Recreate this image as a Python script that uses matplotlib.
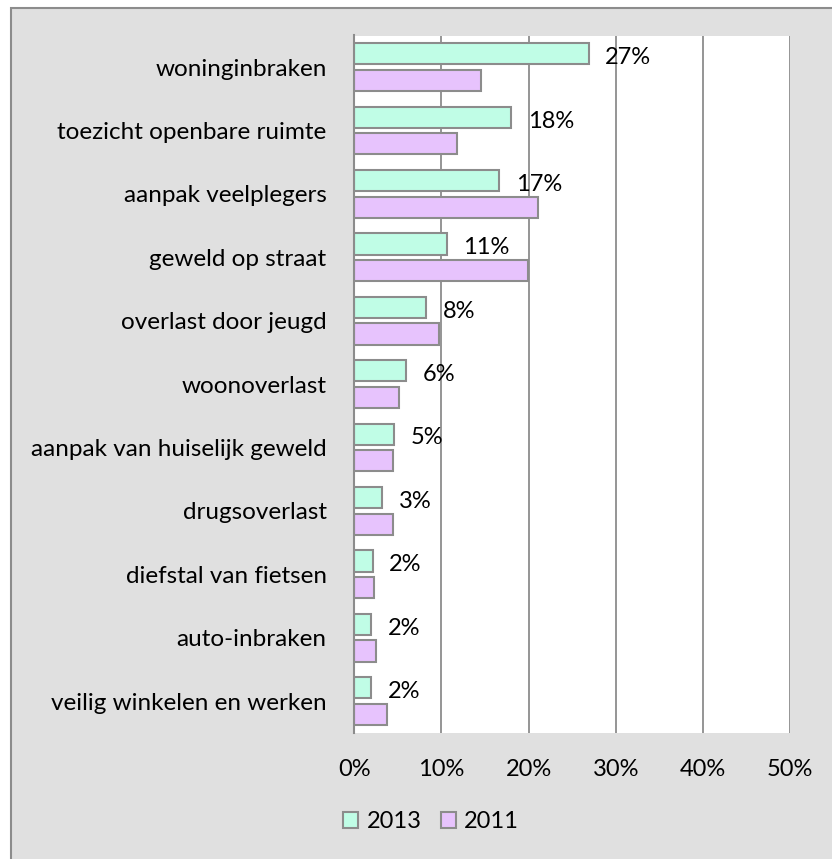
import matplotlib
matplotlib.use("Agg")
import matplotlib.pyplot as plt
from matplotlib.patches import Rectangle, Patch
import numpy as np

plt.rcParams["font.family"] = ["Lato", "DejaVu Sans"]

categories = [
    "woninginbraken",
    "toezicht openbare ruimte",
    "aanpak veelplegers",
    "geweld op straat",
    "overlast door jeugd",
    "woonoverlast",
    "aanpak van huiselijk geweld",
    "drugsoverlast",
    "diefstal van fietsen",
    "auto-inbraken",
    "veilig winkelen en werken",
]
values_2013 = [26.9, 18.0, 16.6, 10.6, 8.2, 5.9, 4.6, 3.2, 2.1, 1.9, 1.9]
values_2011 = [14.5, 11.8, 21.1, 19.9, 9.7, 5.1, 4.4, 4.4, 2.3, 2.5, 3.7]
series_names = ["2013", "2011"]
x_ticks = [0, 10, 20, 30, 40, 50]

W, H = 832, 859
fig = plt.figure(figsize=(W / 100, H / 100), dpi=100, facecolor="white")

# grey chart area with border
fig.patches.append(Rectangle((11 / W, -0.02), 1.0, (H - 7.5) / H + 0.02,
                             transform=fig.transFigure, facecolor="#E0E0E0",
                             edgecolor="#8C8C8C", lw=1.5, zorder=-10))

left, right = 354.3 / W, 790 / W
bottom, top = 1 - 732.7 / H, 1 - 35.5 / H
ax = fig.add_axes([left, bottom, right - left, top - bottom])
ax.set_facecolor("white")

green = "#C0FDE6"
purple = "#E7C3FD"
edge = "#8C8C8C"

y = np.arange(len(categories))
h = 0.335
off = 0.21
ax.barh(y - off, values_2013, height=h, color=green, edgecolor=edge, lw=1.5, zorder=3)
ax.barh(y + off, values_2011, height=h, color=purple, edgecolor=edge, lw=1.5, zorder=3)

fs_num = 17
fs_cat = 17.5
for yi, v in zip(y, values_2013):
    ax.annotate(f"{round(v):.0f}%", (v, yi - off + 0.06), xytext=(12, 0),
                textcoords="offset points", ha="left", va="center",
                fontsize=fs_num, color="black", zorder=4)

ax.set_xlim(0, 50)
ax.set_ylim(len(categories) - 0.5, -0.5)
ax.set_xticks(x_ticks)
ax.set_xticklabels([f"{t}%" for t in x_ticks], fontsize=fs_num)
ax.set_yticks(y)
ax.set_yticklabels(categories, fontsize=fs_cat)
ax.tick_params(axis="both", length=0)
ax.tick_params(axis="x", pad=19)
ax.tick_params(axis="y", pad=20)
ax.grid(axis="x", color=edge, lw=1.3)
ax.set_axisbelow(True)
for s in ["top", "right", "bottom"]:
    ax.spines[s].set_visible(False)
ax.spines["left"].set_color(edge)
ax.spines["left"].set_linewidth(1.5)
ax.spines["left"].set_zorder(5)

handles = [Patch(facecolor=green, edgecolor=edge, lw=1.5),
           Patch(facecolor=purple, edgecolor=edge, lw=1.5)]
fig.legend(handles, series_names, loc="center", bbox_to_anchor=(431 / W, 1 - 822 / H),
           ncol=2, frameon=False, fontsize=fs_num, handlelength=0.65, handleheight=0.65,
           handletextpad=0.35, columnspacing=0.8)

fig.savefig("out.png", dpi=100, facecolor="white")
